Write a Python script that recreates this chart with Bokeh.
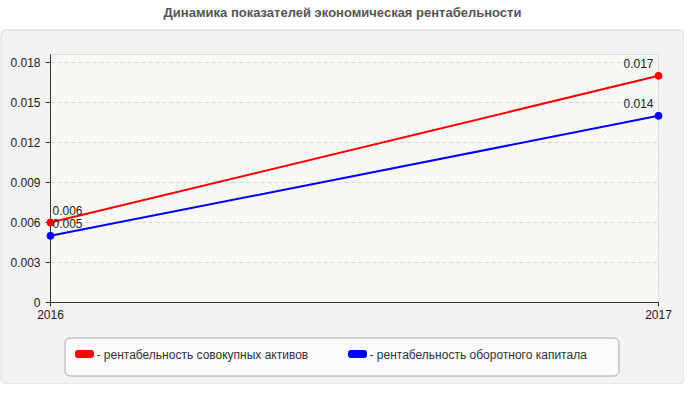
from bokeh.plotting import figure
from bokeh.models import (BoxAnnotation, FixedTicker,
                          CustomJSTickFormatter, ColumnDataSource, Range1d)
from bokeh.embed import file_html
from bokeh.resources import INLINE

# ---- data ----
years = [2016, 2017]
assets = [0.006, 0.017]
capital = [0.005, 0.014]
assets_labels = ["0.006", "0.017"]
capital_labels = ["0.005", "0.014"]
y_ticks = [0, 0.003, 0.006, 0.009, 0.012, 0.015, 0.018]
series_names = ["- рентабельность совокупных активов",
                "- рентабельность оборотного капитала"]
series_colors = ["#ff0000", "#0000ff"]
title_text = "Динамика показателей экономическая рентабельности"

# ---- layout (pixels in figure) ----
W, H = 684, 384
FL, FT, FW, FH = 50, 54, 608, 248
X0, X1 = 2016, 2017
Y0, Y1 = 0, 0.0186
FONT = "Liberation Sans"
RED, BLUE = series_colors


def px2x(px):
    return X0 + (px - FL) / FW * (X1 - X0)


def py2y(py):
    return Y1 - (py - FT) / FH * (Y1 - Y0)


p = figure(width=W, height=H, output_backend="svg", toolbar_location=None,
           x_range=Range1d(X0, X1), y_range=Range1d(Y0, Y1),
           min_border_left=FL, min_border_top=FT,
           min_border_right=W - FL - FW, min_border_bottom=H - FT - FH)

p.border_fill_color = "#f3f3f3"
p.background_fill_color = "#fdfdf8"
p.outline_line_color = "#dddddd"

hatch = BoxAnnotation(left=X0, right=X1, bottom=Y0, top=Y1,
                      fill_alpha=0, line_alpha=0,
                      hatch_pattern="/", hatch_color="#eeeeee",
                      hatch_scale=5, hatch_weight=1, level="image")
p.add_layout(hatch)

# grid
p.xgrid.visible = False
p.ygrid.ticker = FixedTicker(ticks=y_ticks)
p.ygrid.grid_line_color = "#d6d6d6"
p.ygrid.grid_line_dash = "4 3"

# axes
p.yaxis.ticker = FixedTicker(ticks=y_ticks)
p.yaxis.formatter = CustomJSTickFormatter(code="return tick == 0 ? '0' : tick.toFixed(3);")
p.xaxis.ticker = FixedTicker(ticks=years)
for ax in (p.xaxis[0], p.yaxis[0]):
    ax.axis_line_color = "#333333"
    ax.major_tick_line_color = "#333333"
    ax.minor_tick_line_color = None
    ax.major_tick_in = 0
    ax.major_label_text_font = FONT
    ax.major_label_text_font_size = "12px"
    ax.major_label_text_color = "#222222"
p.yaxis.major_tick_out = 5
p.xaxis.major_tick_out = 4
p.yaxis.major_label_standoff = 5
p.xaxis.major_label_standoff = 3

# white strip above the panel and panel outline (drawn unclipped)
p.quad(left=[px2x(-4)], right=[px2x(W + 4)], top=[py2y(-4)], bottom=[py2y(29)],
       fill_color="white", line_alpha=0, level="overlay")
p.quad(left=[px2x(0.5)], right=[px2x(W - 0.5)], top=[py2y(29.5)], bottom=[py2y(H - 0.5)],
       fill_alpha=0, line_color="#dcdcdc", line_width=1, border_radius=6, level="overlay")
p.text(x=[px2x(342)], y=[py2y(12)], text=[title_text], text_font={"value": FONT},
       text_font_size="13px", text_font_style="bold", text_color="#555555",
       text_align="center", text_baseline="middle", level="overlay")

# series
p.line(years, assets, line_color=RED, line_width=2, level="overlay")
p.scatter(years, assets, size=7, fill_color=RED, line_color=RED, level="overlay")
p.line(years, capital, line_color=BLUE, line_width=2, level="overlay")
p.scatter(years, capital, size=7, fill_color=BLUE, line_color=BLUE, level="overlay")

# value labels
left_src = ColumnDataSource(dict(x=[years[0], years[0]], y=[assets[0], capital[0]],
                                 t=[assets_labels[0], capital_labels[0]]))
right_src = ColumnDataSource(dict(x=[years[1], years[1]], y=[assets[1], capital[1]],
                                  t=[assets_labels[1], capital_labels[1]]))
p.text(x="x", y="y", text="t", source=left_src, x_offset=2, y_offset=-12,
       text_align="left", text_baseline="middle", text_font_size="12px",
       text_color="#222222", text_font={"value": FONT}, level="overlay")
p.text(x="x", y="y", text="t", source=right_src, x_offset=-5, y_offset=-12,
       text_align="right", text_baseline="middle", text_font_size="12px",
       text_color="#222222", text_font={"value": FONT}, level="overlay")

# legend box (drawn with glyphs below the plot area)
p.quad(left=[px2x(64.5)], right=[px2x(618.5)], top=[py2y(337.5)], bottom=[py2y(375.5)],
       fill_color="#fafafa", line_color="#a8a8a8", line_width=1, border_radius=5,
       level="overlay")
sw_left = [75, 348]
txt_left = [96, 369]
p.quad(left=[px2x(v) for v in sw_left], right=[px2x(v + 18) for v in sw_left],
       top=[py2y(350)] * 2, bottom=[py2y(357)] * 2,
       fill_color=series_colors, line_color=series_colors, border_radius=2,
       level="overlay")
p.text(x=[px2x(v) for v in txt_left], y=[py2y(354)] * 2, text=series_names,
       text_font={"value": FONT}, text_font_size="12px", text_color="#333333",
       text_align="left", text_baseline="middle", level="overlay")

open("out.html", "w").write(file_html(p, INLINE))
